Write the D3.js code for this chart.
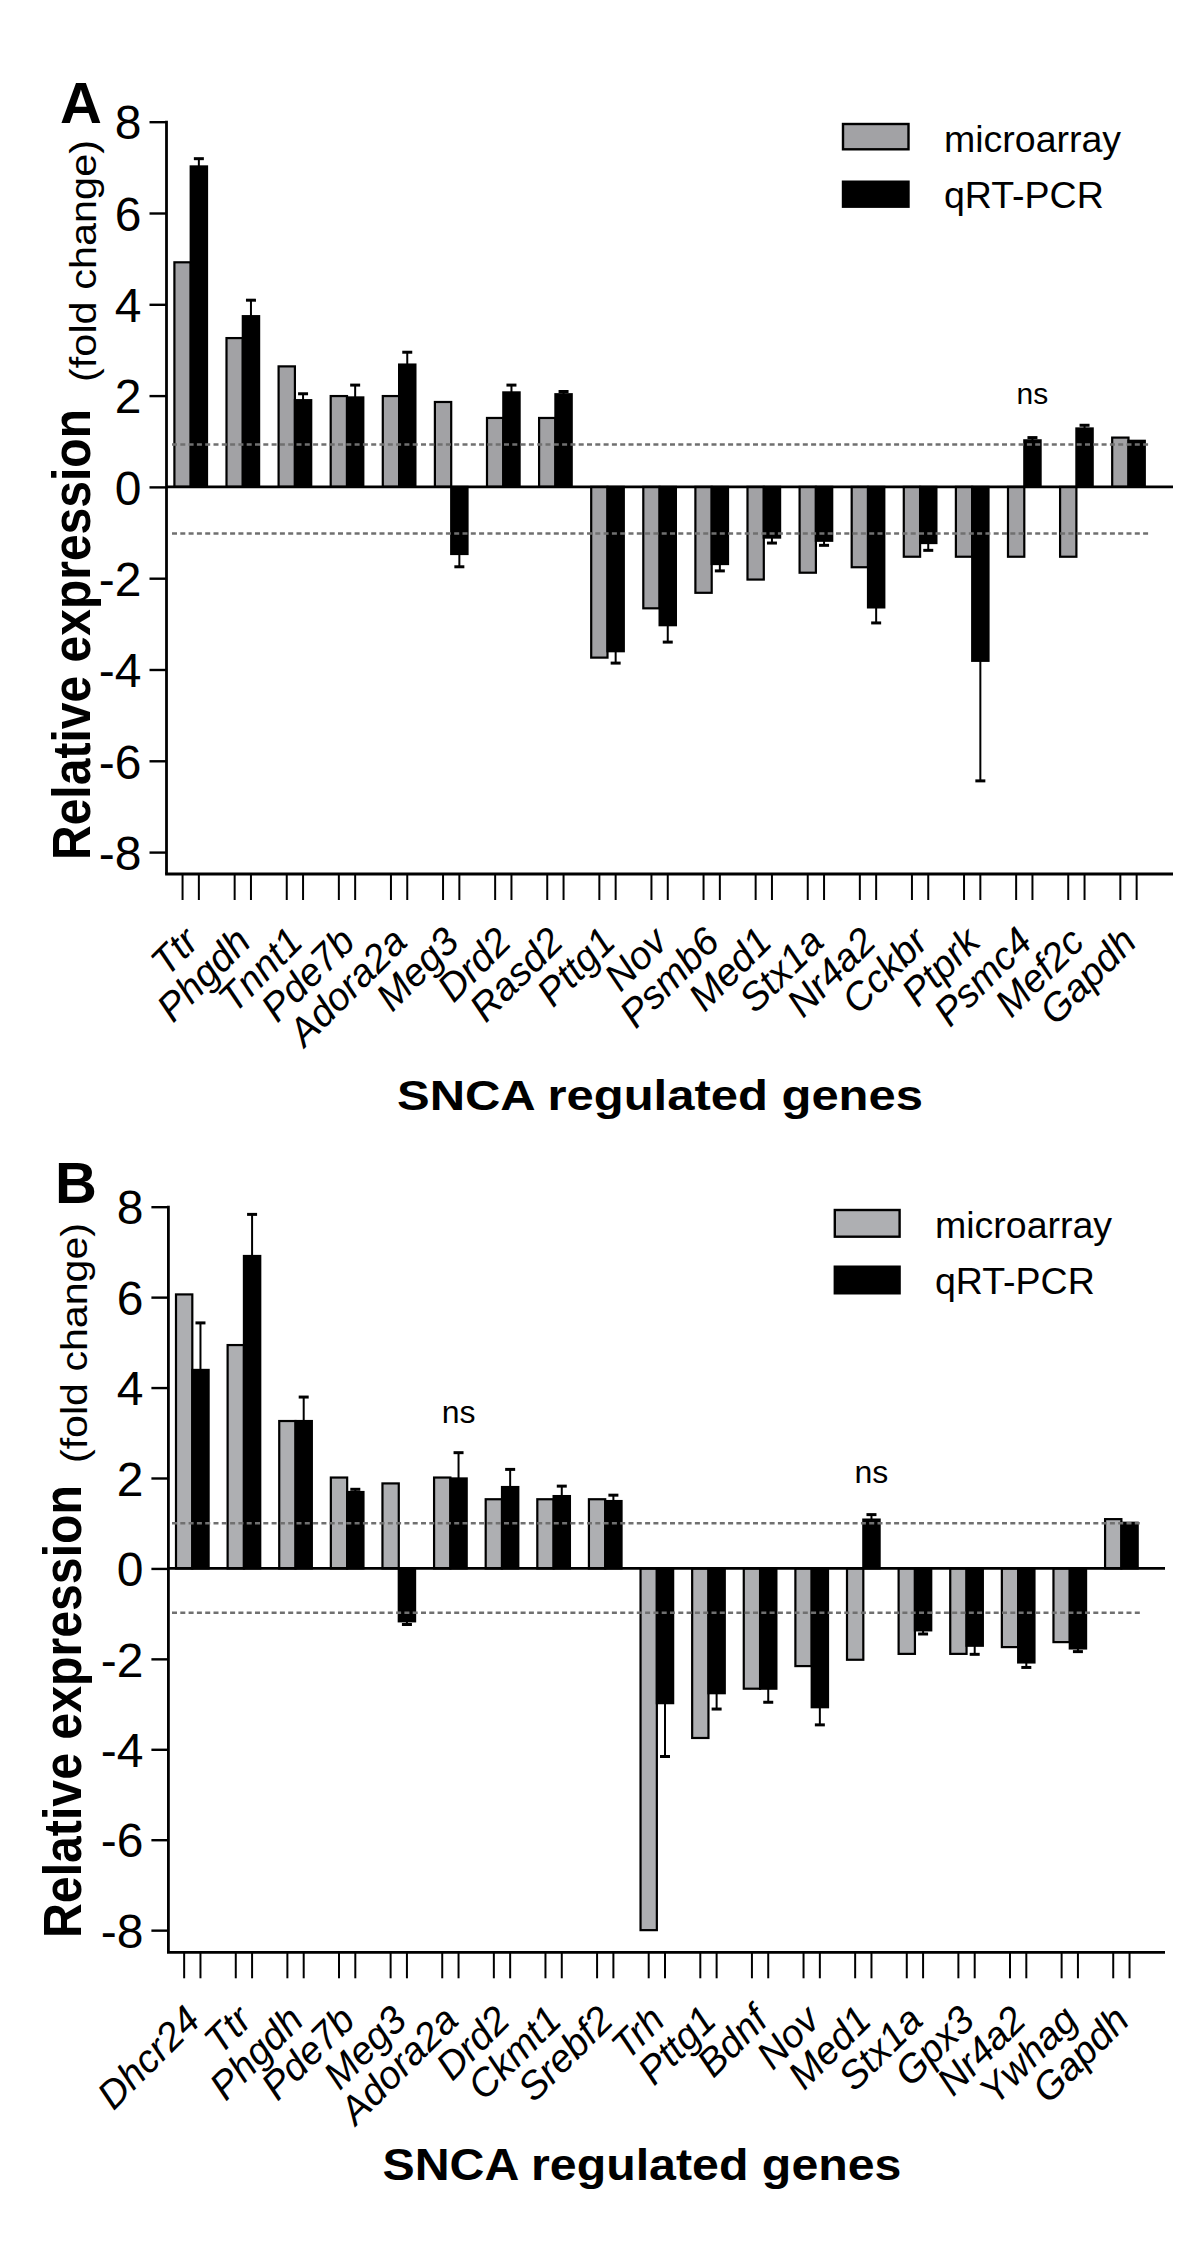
<!DOCTYPE html>
<html><head><meta charset="utf-8">
<script src="https://cdn.jsdelivr.net/npm/d3@7"></script>
<style>
body{margin:0;background:#fff}
svg{display:block}
text{font-family:"Liberation Sans",Arial,Helvetica,sans-serif}
</style>
</head><body>
<svg id="chart" width="1200" height="2267"></svg>
<script>
// ---------- Data ----------
const seriesNames = ["microarray", "qRT-PCR"];
const yTicks = [-8, -6, -4, -2, 0, 2, 4, 6, 8];
const xTitle = "SNCA regulated genes";
const yTitleBold = "Relative expression";
const yTitleRegular = "(fold change)";

// Panel A
const genesA = ["Ttr","Phgdh","Tnnt1","Pde7b","Adora2a","Meg3","Drd2","Rasd2","Pttg1","Nov","Psmb6","Med1","Stx1a","Nr4a2","Cckbr","Ptprk","Psmc4","Mef2c","Gapdh"];
const microA = [4.92, 3.26, 2.64, 1.99, 1.99, 1.86, 1.51, 1.51, -3.74, -2.66, -2.32, -2.03, -1.88, -1.76, -1.53, -1.53, -1.53, -1.53, 1.08];
const qpcrA  = [7.02, 3.74, 1.90, 1.96, 2.68, -1.47, 2.07, 2.03, -3.60, -3.03, -1.69, -1.11, -1.18, -2.64, -1.23, -3.81, 1.02, 1.28, 1.01];
const errA   = [0.17, 0.35, 0.14, 0.27, 0.27, 0.28, 0.16, 0.06, 0.26, 0.37, 0.15, 0.12, 0.10, 0.34, 0.16, 2.63, 0.06, 0.07, 0];
const thresholdsA = [0.93, -1.02];
const nsGenesA = ["Psmc4"];
const nsLevelsA = [1.81];

// Panel B
const genesB = ["Dhcr24","Ttr","Phgdh","Pde7b","Meg3","Adora2a","Drd2","Ckmt1","Srebf2","Trh","Pttg1","Bdnf","Nov","Med1","Stx1a","Gpx3","Nr4a2","Ywhag","Gapdh"];
const microB = [6.06, 4.94, 3.26, 2.01, 1.88, 2.01, 1.53, 1.53, 1.53, -8.0, -3.75, -2.66, -2.16, -2.02, -1.89, -1.89, -1.74, -1.63, 1.09];
const qpcrB  = [4.39, 6.91, 3.26, 1.69, -1.17, 1.99, 1.80, 1.60, 1.49, -2.98, -2.76, -2.66, -3.07, 1.08, -1.37, -1.71, -2.08, -1.77, 1.01];
const errB   = [1.04, 0.92, 0.53, 0.06, 0.07, 0.57, 0.39, 0.22, 0.13, 1.18, 0.35, 0.30, 0.39, 0.11, 0.08, 0.19, 0.11, 0.07, 0];
const thresholdsB = [1.0, -0.98];
const nsGenesB = ["Adora2a", "Med1"];
const nsLevelsB = [3.21, 1.88];

// ---------- Layout ----------
const panels = [
  {letter:"A", genes:genesA, micro:microA, qpcr:qpcrA, err:errA, thr:thresholdsA, nsG:nsGenesA, nsL:nsLevelsA,
   axisX:166.5, x0:174.4, x1:1144.8, padIn:0.374, yTop:121.7, yBot:874, yMin:-8.48, axisRight:1173,
   dash:[172,1151], grayFill:"#a2a2a5",
   legend:{x:843, w:65.5, y1:124, h1:25.3, y2:181.7, h2:25, tx:944, tb1:151.7, tb2:208.3, size:37.5},
   letterPos:{x:60, y:123},
   yl:{bx:90, by:860, blen:451, bsize:54, rx:96, ry:382, rlen:242, rsize:37},
   xt:{x:660, y:1110, len:526, size:43}, nsSize:30},
  {letter:"B", genes:genesB, micro:microB, qpcr:qpcrB, err:errB, thr:thresholdsB, nsG:nsGenesB, nsL:nsLevelsB,
   axisX:168.4, x0:176, x1:1137.7, padIn:0.368, yTop:1206.7, yBot:1952.3, yMin:-8.49, axisRight:1165,
   dash:[172,1140], grayFill:"#aeafb2",
   legend:{x:834.8, w:64.8, y1:1210, h1:26.7, y2:1266.7, h2:26.6, tx:935, tb1:1238, tb2:1294, size:37.5},
   letterPos:{x:55, y:1203.3},
   yl:{bx:81, by:1938, blen:453, bsize:54, rx:87, ry:1463, rlen:240, rsize:37},
   xt:{x:642, y:2180, len:519, size:45}, nsSize:32}
];

const svg = d3.select("#chart");

panels.forEach(p => {
  const g = svg.append("g");
  const x = d3.scaleBand().domain(p.genes).range([p.x0, p.x1]).paddingInner(p.padIn).paddingOuter(0);
  const xs = d3.scaleBand().domain(seriesNames).range([0, x.bandwidth()]).padding(0);
  const y = d3.scaleLinear().domain([p.yMin, 8]).range([p.yBot, p.yTop]);
  const rows = p.genes.map((gname, i) => ({gene:gname, micro:p.micro[i], qpcr:p.qpcr[i], err:p.err[i]}));

  // bars: microarray
  g.selectAll(".bm").data(rows).join("rect")
    .attr("x", d => x(d.gene) + xs("microarray"))
    .attr("width", xs.bandwidth())
    .attr("y", d => Math.min(y(0), y(d.micro)))
    .attr("height", d => Math.abs(y(d.micro) - y(0)))
    .attr("fill", p.grayFill).attr("stroke", "#000").attr("stroke-width", 2.2);

  // bars: qRT-PCR
  g.selectAll(".bq").data(rows).join("rect")
    .attr("x", d => x(d.gene) + xs("qRT-PCR"))
    .attr("width", xs.bandwidth())
    .attr("y", d => Math.min(y(0), y(d.qpcr)))
    .attr("height", d => Math.abs(y(d.qpcr) - y(0)))
    .attr("fill", "#000").attr("stroke", "#000").attr("stroke-width", 2.2);

  // error bars (away from zero)
  const eb = rows.filter(d => d.err > 0);
  const ex = d => x(d.gene) + xs("qRT-PCR") + xs.bandwidth() / 2;
  const eend = d => d.qpcr >= 0 ? d.qpcr + d.err : d.qpcr - d.err;
  g.selectAll(".el").data(eb).join("line")
    .attr("x1", ex).attr("x2", ex)
    .attr("y1", d => y(d.qpcr)).attr("y2", d => y(eend(d)))
    .attr("stroke", "#000").attr("stroke-width", 2);
  g.selectAll(".ec").data(eb).join("line")
    .attr("x1", d => ex(d) - 5).attr("x2", d => ex(d) + 5)
    .attr("y1", d => y(eend(d))).attr("y2", d => y(eend(d)))
    .attr("stroke", "#000").attr("stroke-width", 3);

  // zero line
  g.append("line").attr("x1", p.axisX).attr("x2", p.axisRight)
    .attr("y1", y(0)).attr("y2", y(0)).attr("stroke", "#000").attr("stroke-width", 2.6);

  // dashed threshold lines
  g.selectAll(".thr").data(p.thr).join("line")
    .attr("x1", p.dash[0]).attr("x2", p.dash[1])
    .attr("y1", d => y(d)).attr("y2", d => y(d))
    .attr("stroke", "#707070").attr("stroke-width", 2.5).attr("stroke-dasharray", "5,3.3");

  // y axis
  const ya = d3.axisLeft(y).tickValues(yTicks).tickFormat(d => String(d)).tickSize(17).tickSizeOuter(0).tickPadding(8);
  const yg = g.append("g").attr("transform", `translate(${p.axisX},0)`).call(ya);
  yg.select(".domain").remove();
  yg.selectAll(".tick line").attr("stroke", "#000").attr("stroke-width", 2.4);
  yg.selectAll(".tick text").attr("font-size", 48).attr("fill", "#000")
    .attr("dy", "0.36em").style("font-family", '"Liberation Sans",Arial,sans-serif');
  g.append("line").attr("x1", p.axisX).attr("x2", p.axisX).attr("y1", y(8) - 1).attr("y2", p.yBot)
    .attr("stroke", "#000").attr("stroke-width", 2.8);

  // bottom axis
  g.append("line").attr("x1", p.axisX - 1.4).attr("x2", p.axisRight).attr("y1", p.yBot).attr("y2", p.yBot)
    .attr("stroke", "#000").attr("stroke-width", 2.8);
  const tickPos = [];
  rows.forEach(d => seriesNames.forEach(s => tickPos.push(x(d.gene) + xs(s) + xs.bandwidth() / 2)));
  g.selectAll(".xt").data(tickPos).join("line")
    .attr("x1", d => d).attr("x2", d => d).attr("y1", p.yBot).attr("y2", p.yBot + 26)
    .attr("stroke", "#000").attr("stroke-width", 2);

  // gene labels
  g.selectAll(".gl").data(rows).join("text")
    .attr("transform", d => `translate(${x(d.gene) + x.bandwidth() / 2 + 10},${p.yBot + 70}) rotate(-45)`)
    .attr("text-anchor", "end").attr("font-size", 39).attr("font-style", "italic")
    .text(d => d.gene);

  // ns labels
  g.selectAll(".ns").data(p.nsG).join("text")
    .attr("x", d => x(d) + xs("qRT-PCR") + xs.bandwidth() / 2)
    .attr("y", (d, i) => y(p.nsL[i]))
    .attr("text-anchor", "middle").attr("font-size", p.nsSize).text("ns");

  // legend
  const L = p.legend;
  g.append("rect").attr("x", L.x).attr("y", L.y1).attr("width", L.w).attr("height", L.h1)
    .attr("fill", p.grayFill).attr("stroke", "#000").attr("stroke-width", 2.4);
  g.append("rect").attr("x", L.x).attr("y", L.y2).attr("width", L.w).attr("height", L.h2)
    .attr("fill", "#000").attr("stroke", "#000").attr("stroke-width", 2.4);
  g.append("text").attr("x", L.tx).attr("y", L.tb1).attr("font-size", L.size).text(seriesNames[0]);
  g.append("text").attr("x", L.tx).attr("y", L.tb2).attr("font-size", L.size).text(seriesNames[1]);

  // panel letter
  g.append("text").attr("x", p.letterPos.x).attr("y", p.letterPos.y)
    .attr("font-size", 58).attr("font-weight", "bold").text(p.letter);

  // y title
  const Y = p.yl;
  g.append("text").attr("transform", `translate(${Y.bx},${Y.by}) rotate(-90)`)
    .attr("font-size", Y.bsize).attr("font-weight", "bold")
    .attr("textLength", Y.blen).attr("lengthAdjust", "spacingAndGlyphs").text(yTitleBold);
  g.append("text").attr("transform", `translate(${Y.rx},${Y.ry}) rotate(-90)`)
    .attr("font-size", Y.rsize)
    .attr("textLength", Y.rlen).attr("lengthAdjust", "spacingAndGlyphs").text(yTitleRegular);

  // x title
  g.append("text").attr("x", p.xt.x - p.xt.len / 2).attr("y", p.xt.y)
    .attr("font-size", p.xt.size).attr("font-weight", "bold")
    .attr("textLength", p.xt.len).attr("lengthAdjust", "spacingAndGlyphs").text(xTitle);
});
</script>
</body></html>
